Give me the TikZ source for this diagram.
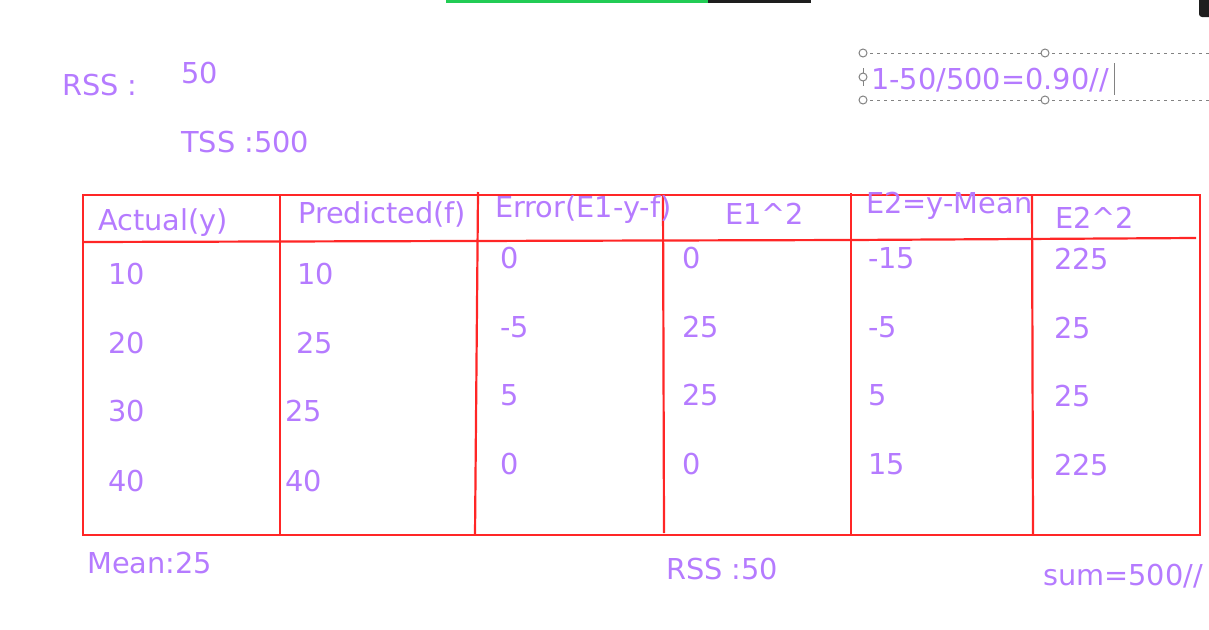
\documentclass[tikz,border=0pt]{standalone}
\usepackage{fontspec}
\setmainfont{DejaVu Sans}
\definecolor{txtpurple}{RGB}{181,123,255}
\definecolor{gridred}{RGB}{255,38,38}
\definecolor{handlegray}{RGB}{130,130,130}
\definecolor{bargreen}{RGB}{34,204,85}
\definecolor{bardark}{RGB}{30,30,30}

\begin{document}
\begin{tikzpicture}[x=1pt, y=-1pt,
        every node/.style={inner sep=0pt, anchor=base west, text=txtpurple, font=\fontsize{28.8}{33}\selectfont},
        grid/.style={draw=gridred, line width=2.2pt},
        handle/.style={draw=handlegray, fill=white, line width=1pt},
        selbox/.style={draw=handlegray, line width=1pt, dash pattern=on 3pt off 4pt}
      ]
      \useasboundingbox (0,0) rectangle (1209,629);
      % top bars
      \fill[bargreen] (446,0) rectangle (708,2.5);
      \fill[bardark] (708,0) rectangle (811,2.5);
      \fill[bardark, rounded corners=3pt] (1199,-8) rectangle (1215,17);

      % notes above the table
      \node (rsslabel) at (62,95) {RSS :};
      \node (rssval) at (181,83) {50};
      \node (tss) at (181,152) {TSS :500};

      % selected text box
      \draw[selbox] (863,53) -- (1209,53);
      \draw[selbox] (863,100) -- (1209,100);
      \draw[handlegray, line width=1pt] (863,68) -- (863,86);
      \foreach \hx/\hy in {863/53, 1045/53, 863/100, 1045/100, 863/77}
        \draw[handle] (\hx,\hy) circle (4pt);
      \node (rsquared) at (871,89) {1-50/500=0.90//};
      \draw[handlegray, line width=0.8pt] (1114,63) -- (1114,95);

      % table
      \draw[grid] (83,195) rectangle (1200,535);
      \draw[grid] (83,242) -- (851,240) -- (1196,238);
      \draw[grid] (280,195) -- (280,535);
      \draw[grid] (478,192) -- (475,535);
      \draw[grid] (663,196) -- (664,533);
      \draw[grid] (851,193) -- (851,535);
      \draw[grid] (1032,195) -- (1033,535);

      % headers
      \node (hact) at (98,230) {Actual(y)};
      \node (hpred) at (298,223) {Predicted(f)};
      \node (herr) at (495,217) {Error(E1-y-f)};
      \node (hesq) at (725,224) {E1\^{}2};
      \node (hdev) at (866,213) {E2=y-Mean};
      \node (hdsq) at (1055,228) {E2\^{}2};

      % actual and predicted
      \foreach \i/\a/\px/\p/\yy in {1/10/297/10/284, 2/20/296/25/353, 3/30/285/25/421, 4/40/285/40/491} {
        \node (act\i) at (108,\yy) {\a};
        \node (pred\i) at (\px,\yy) {\p};
      }

      % errors and squares
      \foreach \i/\e/\es/\d/\ds/\yy in {1/0/0/-15/225/268, 2/-5/25/-5/25/337, 3/5/25/5/25/405, 4/0/0/15/225/474} {
        \node (err\i) at (500,\yy) {\e};
        \node (esq\i) at (682,\yy) {\es};
        \node (dev\i) at (868,\yy) {\d};
        \node (dsq\i) at (1054,\yy+1) {\ds};
      }

      % notes below the table
      \node (mean) at (87,573) {Mean:25};
      \node (rsssum) at (666,579) {RSS :50};
      \node (tsssum) at (1043,585) {sum=500//};
    \end{tikzpicture}
\end{document}
